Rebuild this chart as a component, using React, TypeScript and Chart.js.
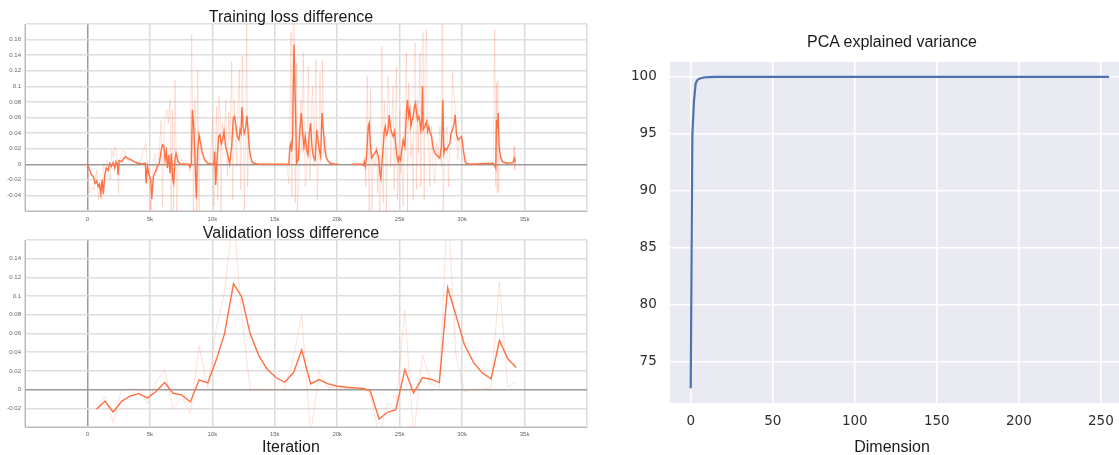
import React, { useEffect, useRef } from "react";
import { Chart, registerables } from "chart.js";

Chart.register(...registerables);

// ---------- Training loss difference (smoothed) ----------
const trainSmoothIter = [
  0, 133, 320, 480, 613, 747, 853, 960, 1067, 1173, 1280, 1387, 1520, 1653, 1787, 1920, 2053, 2187, 2293, 2400,
  2453, 2533, 2720, 2880, 3040, 3200, 3467, 3733, 4000, 4400, 4640, 4693, 4800, 4933, 5067, 5147, 5280, 5440, 5600, 5760,
  5867, 6000, 6133, 6213, 6320, 6400, 6507, 6613, 6720, 6827, 6907, 7013, 7093, 7253, 7467, 8133, 8213, 8320, 8400, 8507,
  8613, 8720, 8827, 8933, 9067, 9200, 9387, 9600, 10000, 10133, 10187, 10267, 10373, 10507, 10613, 10720, 10827, 10933, 11067, 11200,
  11387, 11547, 11680, 11787, 11893, 12000, 12133, 12213, 12293, 12373, 12453, 12560, 12667, 12773, 12853, 12960, 13067, 13173, 13333, 13680,
  16000, 16083, 16136, 16216, 16296, 16350, 16430, 16536, 16643, 16750, 16883, 17017, 17123, 17230, 17336, 17443, 17550, 17656, 17763, 17870,
  17976, 18083, 18243, 18350, 18456, 18563, 18670, 18776, 18883, 18990, 19097, 19283, 19470, 19817, 20083, 20600, 21150, 21950, 22083, 22163,
  22243, 22350, 22483, 22563, 22643, 22750, 22883, 23016, 23150, 23256, 23336, 23416, 23496, 23576, 23683, 23763, 23843, 23950, 24057, 24163,
  24270, 24377, 24483, 24590, 24697, 24803, 24883, 24963, 25070, 25177, 25283, 25417, 25550, 25630, 25710, 25817, 25897, 26003, 26083, 26190,
  26270, 26350, 26430, 26537, 26617, 26697, 26777, 26830, 26883, 27017, 27150, 27230, 27337, 27417, 27550, 27683, 27817, 27950, 28083, 28216,
  28350, 28457, 28537, 28643, 28750, 28883, 29016, 29123, 29230, 29336, 29443, 29550, 29683, 29816, 29950, 30030, 30136, 30243, 30350, 30616,
  32483, 32616, 32696, 32750, 32830, 32883, 32963, 33070, 33230, 33550, 34083, 34163, 34216, 34270,
];
const trainSmoothLoss = [
  0, -0.0051, -0.0137, -0.0159, -0.0245, -0.0215, -0.0287, -0.0253, -0.0373, -0.0202, -0.0382, -0.0137, -0.0051, -0.0082, 0.0013, -0.003, 0.0021, -0.0051, 0.0034, 0.0004,
  -0.0137, 0.0047, 0.0034, 0.0064, 0.0099, 0.0077, 0.0056, 0.0034, 0.0013, 0.0004, 0.0013, -0.0245, -0.003, -0.0137, -0.0202, -0.045, -0.0159, -0.0094, -0.003, 0.0013,
  0.0142, 0.0249, 0.0227, 0.0056, 0.0163, -0.0051, 0.012, -0.0116, 0.0142, -0.0202, -0.0245, 0.0056, 0.0142, 0.0034, 0, 0, -0.0039, 0.0004, 0.0699, 0.0493,
  0.0056, -0.0438, 0.0184, 0.0378, 0.0262, 0.0142, 0.0056, 0.0013, 0, 0.0013, 0.0163, -0.0266, 0.0056, 0.0356, 0.0378, 0.0262, 0.0313, 0.042, 0.0219, 0.0142,
  0.0004, 0.0227, 0.0592, 0.0613, 0.0485, 0.0356, 0.0313, 0.0442, 0.0399, 0.0734, 0.0485, 0.0399, 0.0463, 0.0622, 0.0442, 0.0206, 0.0099, 0.0034, 0.0013, 0,
  0, 0, 0.0034, 0.0227, 0.027, 0.0163, 0.0378, 0.1536, 0.0828, 0.0013, 0.0056, 0.0485, 0.0656, 0.0399, 0.0227, 0.0356, 0.0184, 0.012, 0.0399, 0.0528,
  0.0227, 0.0099, 0.0056, 0.0442, 0.0313, 0.0184, 0.0099, 0.0656, 0.0442, 0.0227, 0.0099, 0.0034, 0.0013, 0, 0, null, 0, 0, -0.0017, 0.0034,
  -0.003, 0.0099, 0.0485, 0.0528, 0.027, 0.0077, 0.012, 0.0142, 0.0184, 0.012, 0.0056, -0.0116, -0.018, 0.0013, 0.0227, 0.042, 0.0485, 0.0378, 0.042, 0.0635,
  0.0463, 0.0399, 0.0356, 0.042, 0.0227, 0.0077, 0.0034, 0.0099, 0.0056, 0.0184, 0.0313, 0.0227, 0.0699, 0.0828, 0.0613, 0.0699, 0.0485, 0.0571, 0.0613, 0.0742,
  0.0785, 0.0656, 0.0571, 0.0613, 0.0549, 0.0442, 0.0571, 0.1, 0.0442, 0.0485, 0.0549, 0.042, 0.0485, 0.042, 0.0356, 0.0206, 0.0142, 0.012, 0.0099, 0.0077,
  0.0227, 0.0828, 0.0142, 0.0206, 0.0184, 0.0227, 0.027, 0.0399, 0.0442, 0.0506, 0.0635, 0.0378, 0.0313, 0.0335, 0.0356, 0.027, 0.0142, 0.0034, 0.0013, 0,
  0.0013, -0.0017, -0.0051, 0.0571, 0.0463, 0.0656, 0.0227, 0.0099, 0.0034, 0.0013, 0.0021, 0.0077, 0.0056, 0.0034,
];

// ---------- Training loss difference (raw) ----------
const trainRawIter = [
  0, 164, 350, 537, 750, 884, 1017, 1150, 1284, 1417, 1550, 1817, 1950, 2084, 2217, 2350, 2484, 2617, 2884, 3150,
  3417, 3684, 4217, 4670, 4750, 4884, 5017, 5070, 5284, 5417, 5550, 5764, 5897, 6004, 6137, 6217, 6350, 6484, 6617, 6697,
  6804, 6884, 7017, 7151, 7284, 7418, 7684, 8084, 8218, 8351, 8484, 8618, 8751, 8831, 8938, 9018, 9151, 9284, 9551, 9818,
  10031, 10138, 10218, 10351, 10431, 10511, 10618, 10698, 10804, 10938, 11071, 11205, 11312, 11418, 11551, 11631, 11738, 11845, 11951, 12058,
  12164, 12271, 12405, 12485, 12565, 12671, 12751, 12831, 12911, 13018, 13151, 13551, 15952, 16136, 16216, 16296, 16376, 16456, 16563, 16643,
  16750, 16803, 16963, 17096, 17176, 17283, 17363, 17443, 17550, 17683, 17816, 17923, 18030, 18136, 18296, 18403, 18510, 18616, 18750, 18830,
  18936, 19043, 19203, 19550, 19817, 20083, 20600, 21150, 21950, 22217, 22297, 22403, 22483, 22563, 22670, 22777, 22883, 23016, 23150, 23230,
  23310, 23390, 23496, 23576, 23683, 23763, 23843, 23950, 24057, 24163, 24270, 24377, 24483, 24563, 24643, 24750, 24830, 24910, 25016, 25096,
  25177, 25283, 25390, 25470, 25550, 25630, 25710, 25817, 25897, 26003, 26083, 26163, 26243, 26350, 26430, 26510, 26617, 26697, 26803, 26883,
  26963, 27043, 27150, 27230, 27337, 27417, 27550, 27683, 27817, 27950, 28083, 28216, 28350, 28403, 28483, 28590, 28697, 28803, 28910, 29016,
  29123, 29230, 29336, 29443, 29550, 29656, 29763, 29870, 29976, 30083, 30216, 30616, 32483, 32616, 32696, 32750, 32803, 32856, 32910, 33016,
  33150, 34083, 34163, 34216, 34270,
];
const trainRawLoss = [
  0, -0.037, -0.029, -0.033, -0.007, -0.046, -0.029, -0.046, 0.0013, -0.011, 0.0056, -0.02, 0.018, 0.0077, 0.023, 0.01, -0.037, 0.01, 0.018, 0.0056,
  0.008, 0.004, 0.002, 0.027, 0.01, -0.003, -0.046, -0.059, 0.0056, 0.014, -0.011, 0.018, 0.057, -0.054, 0.04, 0.059, 0.07, 0.053, 0.083, -0.063,
  0.07, -0.063, 0.108, -0.063, 0.0056, 0.01, 0.002, 0, -0.01, 0.166, -0.063, 0.083, -0.063, 0.121, -0.059, 0.023, 0.014, 0.01, 0.003, 0,
  0.061, -0.054, 0.01, 0.074, -0.046, 0.087, 0.07, -0.063, 0.053, 0.031, 0.083, -0.016, 0.066, 0.031, 0.132, -0.046, 0.083, 0.04, -0.003, 0.074,
  0.121, -0.033, 0.139, 0.061, -0.059, 0.04, 0.195, -0.029, 0.048, 0.006, 0.0013, 0, 0, -0.025, 0.066, 0.169, -0.042, 0.177, 0.19, -0.05,
  0.13, -0.063, -0.011, 0.083, 0.014, 0.143, 0.031, -0.029, -0.011, 0.126, -0.02, 0.069, 0.1, -0.003, 0.134, -0.046, 0.014, 0.117, 0.023, 0.134,
  0.014, 0.036, 0.006, 0.001, 0, 0, null, 0, 0, 0.0099, -0.029, 0.113, 0.0099, -0.063, 0.096, -0.059, 0.014, -0.003, 0.023, -0.037,
  0.0056, -0.063, -0.029, 0.151, -0.05, 0.083, 0.057, -0.063, 0.113, 0.083, -0.003, 0.057, 0.1, -0.033, 0.031, 0.126, -0.046, 0.006, 0.07, -0.011,
  0.014, -0.054, 0.049, 0.1, 0.143, -0.063, 0.104, 0.07, 0.01, 0.027, -0.046, 0.126, 0.156, -0.033, 0.083, 0.014, 0.143, -0.029, 0.151, 0.169,
  -0.046, 0.126, 0.173, 0.057, 0.018, -0.029, 0.048, -0.003, -0.024, 0.027, 0.006, 0.048, -0.003, 0.186, -0.063, 0.023, 0.04, 0.048, -0.029, 0.018,
  0.023, 0.117, 0.091, 0.07, 0.04, 0.006, 0.031, 0.027, 0.01, 0.006, 0.0013, 0, 0.001, 0.173, -0.029, 0.104, -0.037, 0.108, -0.035, 0.0099,
  0.002, 0.0013, 0.023, -0.007, 0.01,
];

// ---------- Validation loss difference ----------
const valIter = [
  725, 1394, 2063, 2731, 3427, 4096, 4818, 5487, 6183, 6852, 7547, 8243, 8939, 9634, 10300, 10972, 11694, 12336, 13032, 13727,
  14396, 15091, 15787, 16510, 17153, 17875, 18544, 19214, 20016, 20818, 21500, 22100, 22636, 23356, 24025, 24694, 25417, 26113, 26835, 27504,
  28173, 28842, 29511, 30180, 30929, 31652, 32321, 32990, 33660, 34328,
];
const valSmoothLoss = [
  -0.021, -0.0125, -0.024, -0.0125, -0.0068, -0.0043, -0.0089, -0.0021, 0.0075, -0.0039, -0.0057, -0.0132, 0.0104, 0.0071, 0.031, 0.0596, 0.1132, 0.0996, 0.0596, 0.0361,
  0.0218, 0.0129, 0.0079, 0.0182, 0.0425, 0.0061, 0.0107, 0.0064, 0.0036, 0.0025, 0.0018, 0.0012, -0.0014, -0.0314, -0.0243, -0.0214, 0.0214, -0.0036, 0.0129, 0.0111,
  0.0075, 0.1089, 0.0793, 0.0482, 0.0286, 0.0175, 0.0114, 0.0525, 0.0329, 0.0236,
];
const valRawLoss = [
  -0.021, -0.0071, -0.035, 0.0, 0.0007, 0.0004, -0.0153, 0.0079, 0.021, -0.021, -0.0075, -0.0254, 0.0468, 0.0018, 0.064, 0.104, 0.19, 0.08, 0.0005, 0.0003,
  0.0002, 0.0002, 0.0003, 0.035, 0.08, -0.048, 0.0193, 0.0025, 0.0018, 0.0014, 0.001, 0.0007, -0.0046, -0.05, -0.0143, -0.018, 0.0846, -0.05, 0.0371, 0.0068,
  0.0025, 0.2, 0.0364, -0.0021, 0.0004, 0.0004, 0.0025, 0.115, 0.0025, 0.0086,
];

// ---------- PCA explained variance ----------
const pcaDimension = [0, 1, 2, 3, 4, 5, 6, 8, 11, 15, 255];
const pcaVariance = [72.7, 94.9, 97.9, 99.4, 99.7, 99.82, 99.88, 99.94, 99.98, 100, 100];

// tick labels
const iterationTickValues = [0, 5000, 10000, 15000, 20000, 25000, 30000, 35000];
const iterationTickLabels = ["0", "5k", "10k", "15k", "20k", "25k", "30k", "35k"];

const TB_FONT = '"Liberation Sans", Arial, sans-serif';
const ORANGE = "#ff7043";
const ORANGE_FAINT = "rgba(255,112,67,0.2)";

function toPoints(xs: number[], ys: (number | null)[]) {
  return xs.map((x, i) => ({ x, y: ys[i] }));
}

function tbConfig(opts: {
  smooth: any[];
  raw: any[];
  yMin: number;
  yMax: number;
  top: number;
  xPad: number;
}): any {
  const { smooth, raw, yMin, yMax, top, xPad } = opts;
  const isZero = (v: number) => Math.abs(v) < 1e-9;
  return {
    type: "line",
    data: {
      datasets: [
        { data: smooth, borderColor: ORANGE, borderWidth: 1.4, pointRadius: 0, spanGaps: false, tension: 0 },
        { data: raw, borderColor: ORANGE_FAINT, borderWidth: 1, pointRadius: 0, spanGaps: false, tension: 0 },
      ],
    },
    options: {
      responsive: false,
      animation: false,
      events: [],
      layout: { padding: { left: 0, right: 13, top, bottom: 0 } },
      plugins: { legend: { display: false }, tooltip: { enabled: false }, title: { display: false } },
      scales: {
        x: {
          type: "linear",
          min: -5000,
          max: 40000,
          afterFit: (s: any) => {
            s.height = 15;
          },
          ticks: {
            stepSize: 5000,
            autoSkip: false,
            maxRotation: 0,
            padding: xPad,
            color: "#666",
            font: { family: TB_FONT, size: 6 },
            callback: (v: number) => {
              const i = iterationTickValues.indexOf(v);
              return i >= 0 ? iterationTickLabels[i] : "";
            },
          },
          grid: {
            color: (c: any) => (c.tick && isZero(c.tick.value) ? "#9a9a9a" : "#dcdcdc"),
            lineWidth: 1.5,
            drawTicks: false,
          },
          border: { display: true, color: "#bbbbbb", width: 1 },
        },
        y: {
          min: yMin,
          max: yMax,
          afterFit: (s: any) => {
            s.width = 25;
          },
          ticks: {
            stepSize: 0.02,
            padding: 4,
            color: "#666",
            font: { family: TB_FONT, size: 6 },
            callback: (v: number) => {
              if (Math.abs(v - yMin) < 1e-9 || Math.abs(v - yMax) < 1e-9) return "";
              return String(Math.round(v * 100) / 100);
            },
          },
          grid: {
            color: (c: any) => (c.tick && isZero(c.tick.value) ? "#9a9a9a" : "#dedede"),
            lineWidth: 1.5,
            drawTicks: false,
          },
          border: { display: true, color: "#bbbbbb", width: 1 },
        },
      },
    },
  };
}

const bgPlugin = {
  id: "seabornBg",
  beforeDraw(chart: any) {
    const { ctx, chartArea } = chart;
    if (!chartArea) return;
    ctx.save();
    ctx.fillStyle = "#eaeaf2";
    ctx.fillRect(chartArea.left, chartArea.top, chartArea.right - chartArea.left, chartArea.bottom - chartArea.top);
    ctx.restore();
  },
};

function pcaConfig(): any {
  const tickFont = { family: '"DejaVu Sans", sans-serif', size: 13.5 };
  return {
    type: "line",
    data: {
      datasets: [
        {
          data: toPoints(pcaDimension, pcaVariance),
          borderColor: "#4c72b0",
          borderWidth: 2.2,
          pointRadius: 0,
          tension: 0,
        },
      ],
    },
    options: {
      responsive: false,
      animation: false,
      events: [],
      layout: { padding: { left: 0, right: 10, top: 62, bottom: 0 } },
      plugins: { legend: { display: false }, tooltip: { enabled: false }, title: { display: false } },
      scales: {
        x: {
          type: "linear",
          min: -12.75,
          max: 267.75,
          afterFit: (s: any) => {
            s.height = 30;
          },
          ticks: { stepSize: 50, includeBounds: false, padding: 10.5, color: "#2e2e2e", font: tickFont, maxRotation: 0 },
          grid: { color: "#ffffff", lineWidth: 1.5, drawTicks: false },
          border: { display: false },
        },
        y: {
          min: 71.4,
          max: 101.3,
          afterFit: (s: any) => {
            s.width = 69.8;
          },
          ticks: { stepSize: 5, includeBounds: false, padding: 13, color: "#2e2e2e", font: tickFont },
          grid: { color: "#ffffff", lineWidth: 1.5, drawTicks: false },
          border: { display: false },
        },
      },
    },
    plugins: [bgPlugin],
  };
}

function ChartCanvas(props: { left: number; top: number; width: number; height: number; make: () => any }) {
  const ref = useRef<HTMLCanvasElement>(null);
  useEffect(() => {
    if (!ref.current) return;
    const chart = new Chart(ref.current, props.make());
    return () => chart.destroy();
  }, []);
  return (
    <canvas
      ref={ref}
      width={props.width}
      height={props.height}
      style={{ position: "absolute", left: props.left, top: props.top, width: props.width, height: props.height }}
    />
  );
}

function Label(props: { text: string; cx: number; top: number }) {
  return (
    <div
      style={{
        position: "absolute",
        left: props.cx - 200,
        width: 400,
        top: props.top,
        textAlign: "center",
        fontFamily: TB_FONT,
        fontSize: 16,
        lineHeight: "16px",
        whiteSpace: "nowrap",
        color: "#1a1a1a",
      }}
    >
      {props.text}
    </div>
  );
}

export default function App() {
  return (
    <div
      style={{
        position: "absolute",
        left: 0,
        top: 0,
        width: 1119,
        height: 455,
        overflow: "hidden",
        background: "#ffffff",
      }}
    >
      <ChartCanvas
        left={0}
        top={0}
        width={600}
        height={226}
        make={() =>
          tbConfig({
            smooth: toPoints(trainSmoothIter, trainSmoothLoss),
            raw: toPoints(trainRawIter, trainRawLoss),
            yMin: -0.06,
            yMax: 0.18,
            top: 24,
            xPad: 5,
          })
        }
      />
      <ChartCanvas
        left={0}
        top={228}
        width={600}
        height={214}
        make={() =>
          tbConfig({
            smooth: toPoints(valIter, valSmoothLoss),
            raw: toPoints(valIter, valRawLoss),
            yMin: -0.04,
            yMax: 0.16,
            top: 12,
            xPad: 3.5,
          })
        }
      />
      <ChartCanvas left={600} top={0} width={540} height={433} make={pcaConfig} />
      <Label text="Training loss difference" cx={291} top={8.5} />
      <Label text="Validation loss difference" cx={291} top={224.8} />
      <Label text="Iteration" cx={291} top={438.8} />
      <Label text="PCA explained variance" cx={892} top={33.8} />
      <Label text="Dimension" cx={892} top={438.8} />
    </div>
  );
}
